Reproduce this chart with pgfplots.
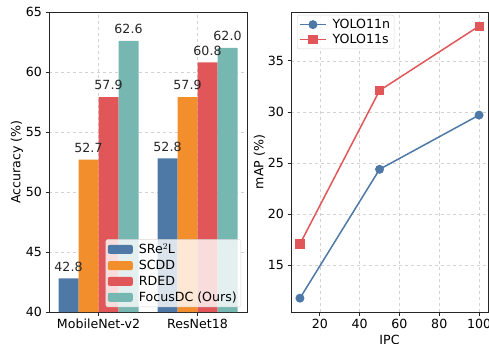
\documentclass[border=0pt]{standalone}
\usepackage{pgfplots}
\pgfplotsset{compat=1.18}
\usepackage{fontspec}
\setmainfont{DejaVu Sans}
\definecolor{cblue}{HTML}{4E79A7}
\definecolor{corange}{HTML}{F28E2B}
\definecolor{cred}{HTML}{E15759}
\definecolor{cteal}{HTML}{76B7B2}
\begin{document}
\begin{tikzpicture}[x=1pt,y=1pt]
\path[use as bounding box] (0,0) rectangle (489,343);
\pgfplotsset{
  every axis/.append style={
    font=\fontsize{12.6}{15}\selectfont,
    /pgf/number format/assume math mode=true,
    scale only axis,
    axis line style={black!85, line width=0.8pt},
    tick style={black!85, line width=0.8pt},
    tick align=outside,
    major tick length=3.5pt,
    tick pos=left,
    grid=major,
    grid style={dashed, gray!35, line width=0.6pt},
    legend cell align=left,
    ylabel shift=-4pt,
  },
  barleg/.style={legend image code/.code={\fill[##1, fill opacity=1] (0pt,-4.5pt) rectangle (25pt,4.5pt);}},
  lineleg/.style={legend image code/.code={\draw[mark repeat=2,mark phase=2,##1, fill opacity=1] plot coordinates {(0pt,0pt) (13pt,0pt) (26pt,0pt)};}},
}
\begin{axis}[
  at={(49pt,31pt)}, anchor=south west,
  width=198pt, height=300pt,
  xmin=-0.5, xmax=1.5, ymin=40, ymax=65,
  xtick={0,1}, xticklabels={MobileNet-v2,ResNet18},
  ytick={40,45,...,65},
  ylabel={Accuracy (\%)},
  ybar=0pt, bar width=20pt,
  nodes near coords={\pgfmathprintnumber[fixed,fixed zerofill,precision=1,assume math mode=true]{\pgfplotspointmeta}},
  every node near coord/.append style={anchor=south, inner sep=0pt, yshift=7pt, text=black!85},
  legend style={at={(1,0)}, anchor=south east, xshift=-6pt, yshift=5pt,
    fill=white, fill opacity=0.8, text opacity=1, draw=gray!30, rounded corners=2pt,
    row sep=1pt, inner sep=2pt, /tikz/every odd column/.append style={column sep=4pt}},
]
\addplot[fill=cblue, draw=none, barleg] coordinates {(0,42.8) (1,52.8)};
\addplot[fill=corange, draw=none, barleg] coordinates {(0,52.7) (1,57.9)};
\addplot[fill=cred, draw=none, barleg] coordinates {(0,57.9) (1,60.8)};
\addplot[fill=cteal, draw=none, barleg] coordinates {(0,62.6) (1,62.0)};
\legend{SRe$^2$L, SCDD, RDED, FocusDC (Ours)}
\end{axis}
\begin{axis}[
  at={(291pt,31pt)}, anchor=south west,
  width=197pt, height=300pt,
  xmin=5.5, xmax=104.5, ymin=10.45, ymax=39.78,
  xtick={20,40,...,100}, ytick={15,20,...,35},
  xlabel={IPC}, ylabel={mAP (\%)},
  legend style={at={(0,1)}, anchor=north west, xshift=6pt, yshift=-3pt,
    fill=white, fill opacity=0.8, text opacity=1, draw=gray!30, rounded corners=2pt,
    row sep=0pt, inner sep=2pt, /tikz/every odd column/.append style={column sep=4pt}},
]
\addplot[color=cblue, line width=1.5pt, mark=*, mark size=3.7pt, mark options={fill=cblue, draw=cblue}, lineleg] coordinates {(10,11.8) (50,24.4) (100,29.7)};
\addplot[color=cred, line width=1.5pt, mark=square*, mark size=3.8pt, mark options={fill=cred, draw=cred}, lineleg] coordinates {(10,17.1) (50,32.1) (100,38.4)};
\legend{YOLO11n, YOLO11s}
\end{axis}
\end{tikzpicture}
\end{document}
